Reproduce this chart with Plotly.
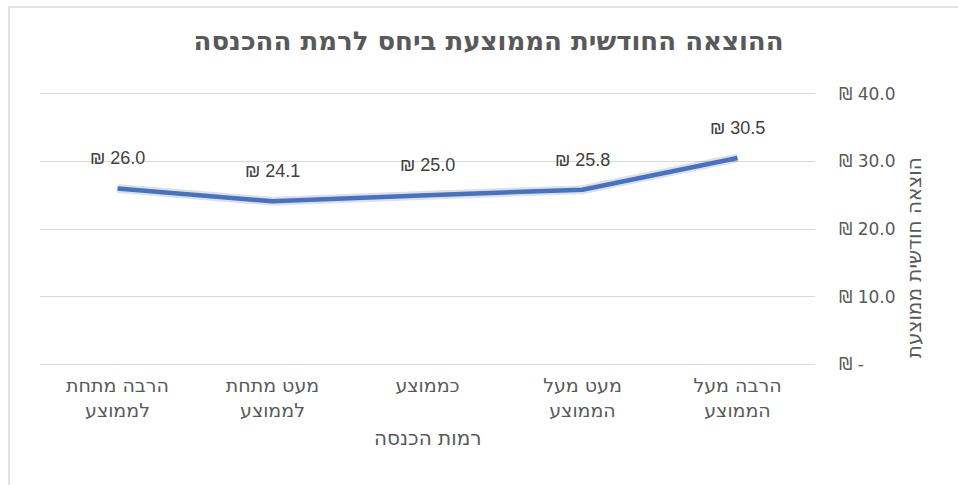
import plotly.graph_objects as go

categories = ["הרבה מתחת<br>לממוצע", "מעט מתחת<br>לממוצע", "כממוצע", "מעט מעל<br>הממוצע", "הרבה מעל<br>הממוצע"]
values = [26.0, 24.1, 25.0, 25.8, 30.5]
y_tickvals = [0, 10, 20, 30, 40]
y_ticktext = ["₪ -", "₪ 10.0", "₪ 20.0", "₪ 30.0", "₪ 40.0"]
title_text = "ההוצאה החודשית הממוצעת ביחס לרמת ההכנסה"
x_title = "רמות הכנסה"
y_title = "הוצאה חודשית ממוצעת"

LRO, PDF = "\u202d", "\u202c"
HEB = "DejaVu Sans, Liberation Sans, sans-serif"
NUM = "Liberation Sans, DejaVu Sans, sans-serif"
GRAY = "#595959"

fig = go.Figure()
fig.add_trace(go.Scatter(
    x=categories, y=values, mode="lines",
    line=dict(color="rgba(0,0,0,0.12)", width=9),
    hoverinfo="skip", showlegend=False,
))
fig.add_trace(go.Scatter(
    x=categories, y=values, mode="lines",
    line=dict(color="#4472C4", width=4.5),
    showlegend=False,
))

annotations = []
for c, v in zip(categories, values):
    annotations.append(dict(
        x=c, y=v, xref="x", yref="y", text=f"{LRO}₪ {v:.1f}{PDF}", showarrow=False,
        yshift=30, font=dict(family=NUM, size=18, color="#404040"),
    ))
annotations.append(dict(
    x=1.145, y=0.395, xref="paper", yref="paper", text=y_title, showarrow=False,
    textangle=-90, font=dict(family=HEB, size=20, color=GRAY),
))
annotations.append(dict(
    x=0.5, y=-0.315, xref="paper", yref="paper", text=x_title, showarrow=False,
    font=dict(family=HEB, size=20, color=GRAY),
))

fig.update_layout(
    width=958, height=485,
    margin=dict(l=40, r=143, t=92, b=119, autoexpand=False),
    paper_bgcolor="white", plot_bgcolor="white",
    title=dict(text=f"<b>{title_text}</b>", x=0.51, xanchor="center", y=0.915, yanchor="middle",
               font=dict(family=HEB, size=26, color=GRAY)),
    annotations=annotations,
    shapes=[dict(type="rect", xref="paper", yref="paper", x0=-0.04, x1=1.3, y0=-0.6, y1=1.31,
                 line=dict(color="#D9D9D9", width=1.5), layer="below")],
    xaxis=dict(
        showgrid=False, showline=False, zeroline=False, ticks="", automargin=False,
        tickfont=dict(family=HEB, size=19, color=GRAY), ticklabelstandoff=6,
        range=[-0.5, 4.5],
    ),
    yaxis=dict(
        side="right", range=[-0.25, 40.25], tickvals=y_tickvals,
        ticktext=[LRO + t + PDF for t in y_ticktext], automargin=False,
        showgrid=True, gridcolor="#D9D9D9", gridwidth=1.3, zeroline=False, showline=False,
        tickfont=dict(family=HEB, size=17, color=GRAY), ticklabelstandoff=23,
    ),
)

fig.write_html("out.html", config={"displayModeBar": False},
               post_script="document.body.style.margin='0';")
